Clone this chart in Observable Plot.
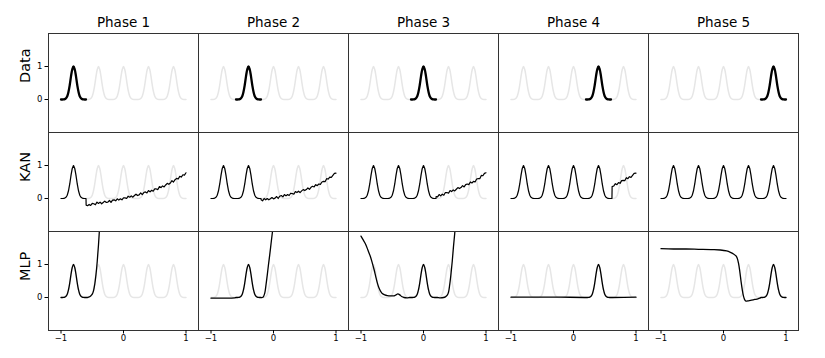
<!DOCTYPE html>
<html><head><meta charset="utf-8">
<script src="https://cdn.jsdelivr.net/npm/d3@7"></script>
<script src="https://cdn.jsdelivr.net/npm/@observablehq/plot@0.6"></script>
<style>html,body{margin:0;padding:0;background:#fff;} #chart{width:825px;height:358px;}</style>
</head><body><div id="chart"></div>
<script>
// ---- categories & ticks ----
const phases = ["Phase 1", "Phase 2", "Phase 3", "Phase 4", "Phase 5"];
const rowNames = ["Data", "KAN", "MLP"];
const xTicks = [-1, 0, 1];
const yTicks = [0, 1];

// ---- one Gaussian peak (offset from centre -> height) ----
const peakCenters = [-0.8, -0.4, 0, 0.4, 0.8];
const peakOffsets = [-0.2, -0.18, -0.16, -0.14, -0.12, -0.1, -0.08, -0.06, -0.04, -0.02, 0, 0.02, 0.04, 0.06, 0.08, 0.1, 0.12, 0.14, 0.16, 0.18, 0.2];
const peakHeights = [0, 0, 0.003, 0.012, 0.038, 0.10, 0.235, 0.44, 0.70, 0.91, 1, 0.91, 0.70, 0.44, 0.235, 0.10, 0.038, 0.012, 0.003, 0, 0];

// ---- KAN: unfitted (noisy) tail after the learned peaks, per phase ----
const kanTail1 = [[-0.598,-0.2],[-0.575,-0.22],[-0.55,-0.18],[-0.525,-0.21],[-0.5,-0.15],[-0.475,-0.16],[-0.45,-0.19],[-0.425,-0.11],[-0.4,-0.15],[-0.375,-0.11],[-0.35,-0.16],[-0.325,-0.12],[-0.3,-0.08],[-0.275,-0.12],[-0.25,-0.11],[-0.225,-0.06],[-0.2,-0.12],[-0.175,-0.05],[-0.15,-0.04],[-0.125,-0.07],[-0.1,-0.01],[-0.075,-0.05],[-0.05,-0.01],[-0.025,-0.04],[0,0.02],[0.025,0.02],[0.05,0.0],[0.075,0.07],[0.1,0.04],[0.125,0.08],[0.15,0.04],[0.175,0.09],[0.2,0.13],[0.225,0.09],[0.25,0.11],[0.275,0.17],[0.3,0.12],[0.325,0.18],[0.35,0.2],[0.375,0.17],[0.4,0.24],[0.425,0.2],[0.45,0.25],[0.475,0.22],[0.5,0.29],[0.525,0.29],[0.55,0.27],[0.575,0.36],[0.6,0.33],[0.625,0.38],[0.65,0.35],[0.675,0.41],[0.7,0.46],[0.725,0.43],[0.75,0.47],[0.775,0.54],[0.8,0.5],[0.825,0.57],[0.85,0.61],[0.875,0.59],[0.9,0.67],[0.925,0.65],[0.95,0.72],[0.975,0.71],[1,0.78]];
const kanTail2 = [[-0.198,-0.04],[-0.175,-0.07],[-0.15,0.0],[-0.125,-0.04],[-0.1,0.0],[-0.075,-0.04],[-0.05,-0.01],[-0.025,0.03],[0,-0.01],[0.025,0.01],[0.05,0.06],[0.075,0.0],[0.1,0.07],[0.125,0.09],[0.15,0.05],[0.175,0.12],[0.2,0.08],[0.225,0.12],[0.25,0.09],[0.275,0.16],[0.3,0.15],[0.325,0.13],[0.35,0.21],[0.375,0.18],[0.4,0.22],[0.425,0.18],[0.45,0.23],[0.475,0.27],[0.5,0.24],[0.525,0.27],[0.55,0.32],[0.575,0.28],[0.6,0.34],[0.625,0.37],[0.65,0.35],[0.675,0.42],[0.7,0.39],[0.725,0.44],[0.75,0.43],[0.775,0.5],[0.8,0.52],[0.825,0.51],[0.85,0.6],[0.875,0.59],[0.9,0.65],[0.925,0.64],[0.95,0.7],[0.975,0.76],[1,0.77]];
const kanTail3 = [[0.202,0.06],[0.225,0.05],[0.25,0.12],[0.275,0.08],[0.3,0.13],[0.325,0.1],[0.35,0.18],[0.375,0.18],[0.4,0.16],[0.425,0.24],[0.45,0.21],[0.475,0.26],[0.5,0.23],[0.525,0.28],[0.55,0.33],[0.575,0.3],[0.6,0.33],[0.625,0.39],[0.65,0.35],[0.675,0.42],[0.7,0.44],[0.725,0.42],[0.75,0.5],[0.775,0.47],[0.8,0.52],[0.825,0.5],[0.85,0.59],[0.875,0.6],[0.9,0.6],[0.925,0.7],[0.95,0.69],[0.975,0.76],[1,0.78]];
const kanTail4 = [[0.615,0.0],[0.618,0.36],[0.645,0.38],[0.67,0.45],[0.695,0.42],[0.72,0.48],[0.745,0.46],[0.77,0.54],[0.795,0.55],[0.82,0.54],[0.845,0.63],[0.87,0.6],[0.895,0.66],[0.92,0.64],[0.945,0.7],[0.97,0.76],[1,0.77]];
const kanTail5 = [];

// ---- MLP: curve left and right of the current phase's peak ----
const mlpLeft1 = [];
const mlpRight1 = [[-0.58,0.0],[-0.56,0.01],[-0.53,0.04],[-0.5,0.1],[-0.48,0.2],[-0.46,0.4],[-0.44,0.7],[-0.42,1.1],[-0.4,1.6],[-0.38,2.2],[-0.36,2.8]];
const mlpLeft2 = [[-1,-0.02],[-0.8,-0.02],[-0.62,-0.01]];
const mlpRight2 = [[-0.18,0.0],[-0.16,0.03],[-0.14,0.13],[-0.12,0.38],[-0.1,0.68],[-0.08,1.0],[-0.06,1.3],[-0.04,1.62],[-0.02,1.94],[0,2.25],[0.02,2.6]];
const mlpLeft3 = [[-1,1.86],[-0.97,1.76],[-0.93,1.63],[-0.89,1.44],[-0.85,1.24],[-0.82,1.05],[-0.79,0.84],[-0.765,0.64],[-0.74,0.45],[-0.715,0.3],[-0.69,0.2],[-0.66,0.12],[-0.62,0.08],[-0.58,0.06],[-0.52,0.05],[-0.47,0.05],[-0.44,0.08],[-0.41,0.11],[-0.38,0.08],[-0.35,0.03],[-0.31,0.0],[-0.26,-0.01],[-0.22,0.0]];
const mlpRight3 = [[0.22,0.0],[0.27,-0.01],[0.32,0.0],[0.35,0.02],[0.38,0.07],[0.4,0.16],[0.42,0.4],[0.44,0.72],[0.46,1.1],[0.48,1.55],[0.5,1.95],[0.52,2.4]];
const mlpLeft4 = [[-1,0.01],[-0.6,0.01],[-0.2,0.01],[0.18,0.0]];
const mlpRight4 = [[0.62,0.0],[1,0.01]];
const mlpLeft5 = [[-1,1.48],[-0.8,1.47],[-0.6,1.47],[-0.4,1.46],[-0.2,1.45],[-0.05,1.44],[0.05,1.41],[0.11,1.37],[0.16,1.32],[0.2,1.26],[0.22,1.19],[0.24,1.04],[0.26,0.8],[0.28,0.5],[0.3,0.24],[0.32,0.04],[0.34,-0.07],[0.36,-0.11],[0.4,-0.1],[0.45,-0.08],[0.5,-0.06],[0.55,-0.04],[0.58,-0.02]];
const mlpRight5 = [];

// ---- build tables ----
const kanTails = [kanTail1, kanTail2, kanTail3, kanTail4, kanTail5];
const mlpLefts = [mlpLeft1, mlpLeft2, mlpLeft3, mlpLeft4, mlpLeft5];
const mlpRights = [mlpRight1, mlpRight2, mlpRight3, mlpRight4, mlpRight5];
const toPts = arr => arr.map(([x, y]) => ({x, y}));
const peakPoints = c => peakOffsets.map((d, i) => ({x: c + d, y: peakHeights[i]}));

const gray = peakCenters.flatMap(peakPoints);
const dataLines = phases.flatMap((p, i) => peakPoints(peakCenters[i]).map(d => ({...d, phase: p, row: "Data"})));
const kanLines = phases.flatMap((p, i) =>
  [...peakCenters.slice(0, i + 1).flatMap(peakPoints), ...toPts(kanTails[i])].map(d => ({...d, phase: p, row: "KAN"})));
const mlpLines = phases.flatMap((p, i) =>
  [...toPts(mlpLefts[i]), ...peakPoints(peakCenters[i]), ...toPts(mlpRights[i])].map(d => ({...d, phase: p, row: "MLP"})));

const fmt = d3.format("d");
const chart = Plot.plot({
  width: 825, height: 358,
  marginLeft: 48, marginRight: 27, marginTop: 32, marginBottom: 27,
  style: {fontFamily: "'DejaVu Sans', sans-serif", background: "#fff", color: "#000"},
  x: {domain: [-1.2, 1.2]},
  y: {domain: [-1, 2]},
  fx: {domain: phases, padding: 0, axis: null},
  fy: {domain: rowNames, padding: 0, axis: null},
  marks: [
    Plot.line(gray, {x: "x", y: "y", stroke: "#e6e6e6", strokeWidth: 1.5, curve: "catmull-rom"}),
    Plot.line(dataLines, {x: "x", y: "y", fx: "phase", fy: "row", z: "phase", stroke: "#000", strokeWidth: 2.3, curve: "catmull-rom"}),
    Plot.line(kanLines, {x: "x", y: "y", fx: "phase", fy: "row", z: "phase", stroke: "#000", strokeWidth: 1.2, clip: true}),
    Plot.line(mlpLines, {x: "x", y: "y", fx: "phase", fy: "row", z: "phase", stroke: "#000", strokeWidth: 1.3, curve: "catmull-rom", clip: true}),
    Plot.frame({stroke: "#333", strokeWidth: 1}),
    Plot.axisX({ticks: xTicks, tickFormat: fmt, tickSize: 3.5, tickPadding: 1, fontSize: 8.5, label: null}),
    Plot.axisY({ticks: yTicks, tickFormat: fmt, tickSize: 3.5, tickPadding: 2.5, fontSize: 8.5, label: null}),
    Plot.text(phases, {fx: d => d, fy: () => rowNames[0], text: d => d, frameAnchor: "top", lineAnchor: "middle", dy: -11, fontSize: 13.5}),
    Plot.text(rowNames, {fx: () => phases[0], fy: d => d, text: d => d, frameAnchor: "left", lineAnchor: "middle", dx: -23, rotate: -90, fontSize: 14.5})
  ]
});
document.getElementById("chart").appendChild(chart);
</script>
</body></html>
